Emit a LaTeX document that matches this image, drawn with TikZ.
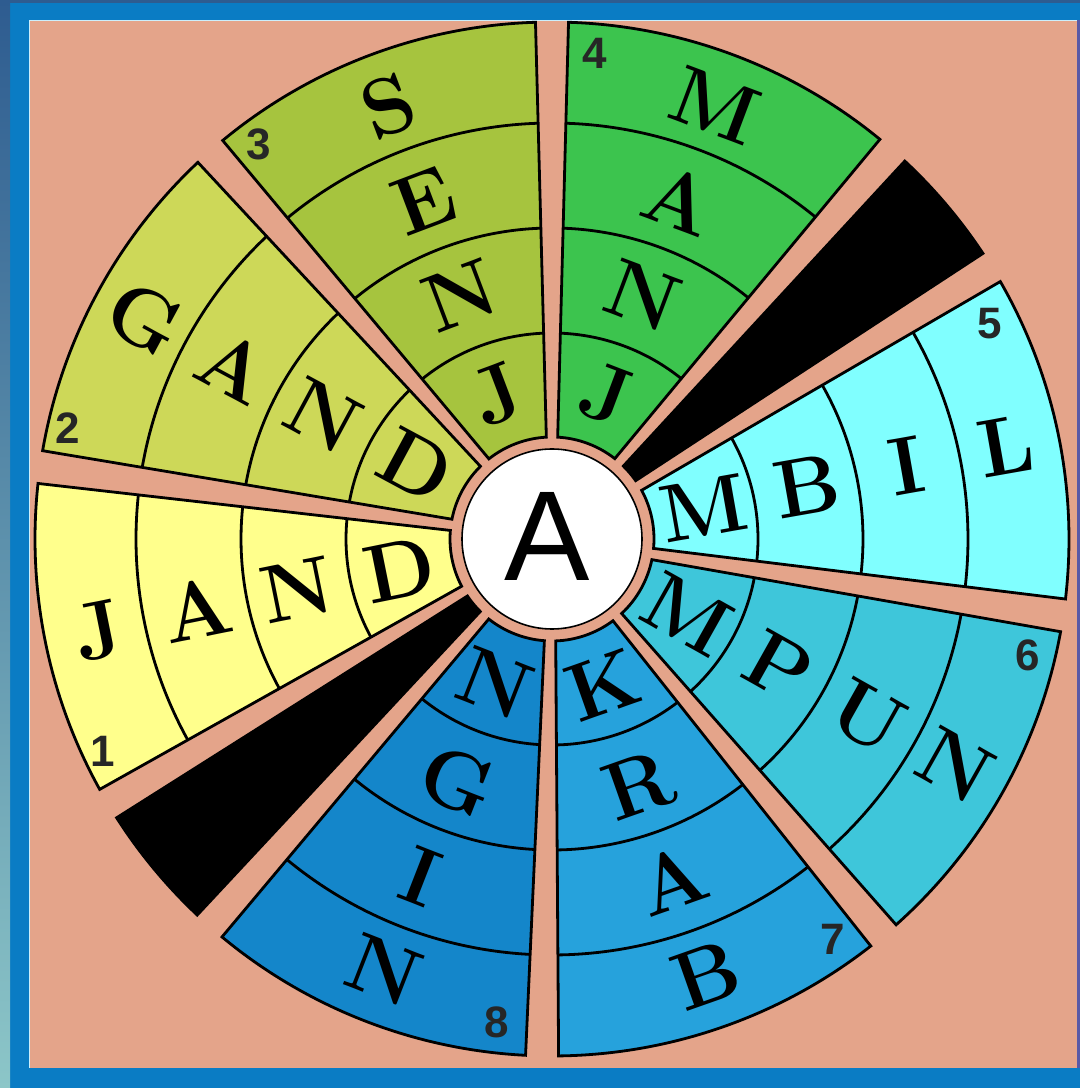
\documentclass[tikz,border=0pt]{standalone}
\usepackage{fontspec}
\newfontfamily\sansnum{Liberation Sans}
\newfontfamily\sansnumbold{Liberation Sans Bold}
\usetikzlibrary{calc}
\definecolor{salmonbg}{HTML}{E4A48A}
\definecolor{frameblue}{HTML}{0A7CC4}
\definecolor{darkframe}{HTML}{2E5C90}
\definecolor{tealframe}{HTML}{8CC6C8}
\definecolor{cA}{HTML}{FFFF8C}
\definecolor{cB}{HTML}{CDD858}
\definecolor{cC}{HTML}{A6C43E}
\definecolor{cD}{HTML}{3CC44E}
\definecolor{cE}{HTML}{80FFFF}
\definecolor{cF}{HTML}{3EC6DA}
\definecolor{cG}{HTML}{26A2DC}
\definecolor{cH}{HTML}{1486CA}
\tikzset{
  lett/.style={font=\fontsize{82}{82}\selectfont\bfseries, inner sep=0pt, text height=56pt, text depth=0pt},
  numlab/.style={font=\sansnumbold\fontsize{44}{44}\selectfont, text=black!85, inner sep=0pt},
  outline/.style={draw=black, line width=2.8},
}
\newcommand\sectorletters[7]{%
  \node[lett, rotate=#3] (#1a) at (#2:155) {#4};
  \node[lett, rotate=#3] (#1b) at (#2:260) {#5};
  \node[lett, rotate=#3] (#1c) at (#2:362) {#6};
  \node[lett, rotate=#3] (#1d) at (#2:463) {#7};
}
\begin{document}
\begin{tikzpicture}[x=1pt,y=1pt]
\useasboundingbox (0,0) rectangle (1080,1088);
% frame
\fill[frameblue] (0,0) rectangle (1080,1088);
\shade[top color=darkframe, bottom color=tealframe] (0,0) rectangle (10,1088);
\fill[darkframe] (0,1085) rectangle (1080,1088);
\fill[salmonbg] (29,20) rectangle (1077,1068);
\draw[white!80!cyan, line width=1.6] (29.5,20) -- (29.5,1067.5) -- (1077,1067.5);
\fill[blue!30!gray] (1077,20) rectangle (1080,1068);
\begin{scope}[shift={(552,549)}]
  \def\rin{102}\def\rout{517}\def\dl{1.5}\def\dd{3}
  % coloured sectors
  \foreach \a/\b/\col in {172/210.8/cA, 131.4/172/cB, 90/131.4/cC, 48.8/90/cD,
                          -8.5/31.7/cE, -50.1/-8.5/cF, -91.1/-50.1/cG, -131.5/-91.1/cH,
                          31.7/48.8/black, -149.2/-131.5/black} {
    \pgfmathsetmacro\sIn{\a+\dl+\dd/\rin*57.2958}
    \pgfmathsetmacro\eIn{\b-\dl-\dd/\rin*57.2958}
    \pgfmathsetmacro\sOut{\a+\dl+\dd/\rout*57.2958}
    \pgfmathsetmacro\eOut{\b-\dl-\dd/\rout*57.2958}
    \filldraw[fill=\col, outline] (\sIn:\rin) -- (\sOut:\rout)
      arc[start angle=\sOut, end angle=\eOut, radius=\rout]
      -- (\eIn:\rin) arc[start angle=\eIn, end angle=\sIn, radius=\rin] -- cycle;
  }
  % ring dividers
  \foreach \a/\b in {172/210.8, 131.4/172, 90/131.4, 48.8/90,
                     -8.5/31.7, -50.1/-8.5, -91.1/-50.1, -131.5/-91.1} {
    \foreach \R in {206,311,416} {
      \pgfmathsetmacro\sR{\a+\dl+\dd/\R*57.2958}
      \pgfmathsetmacro\eR{\b-\dl-\dd/\R*57.2958}
      \draw[line width=2.8] (\sR:\R) arc[start angle=\sR, end angle=\eR, radius=\R];
    }
  }
  % centre
  \filldraw[fill=white, draw=black, line width=1.6] (0,0) circle[radius=90];
  \node[font=\sansnum\fontsize{128}{128}\selectfont, inner sep=0pt] (hub) at (-5,3) {A};
  % letters (inner to outer)
  \sectorletters{one}{191.4}{11.4}{D}{N}{A}{J}
  \sectorletters{two}{151.7}{-28.3}{D}{N}{A}{G}
  \sectorletters{three}{110.7}{20.7}{J}{N}{E}{S}
  \sectorletters{four}{69.4}{-20.6}{J}{N}{A}{M}
  \sectorletters{five}{11.6}{10}{M}{B}{I}{L}
  \sectorletters{six}{-29.3}{-29.3}{M}{P}{U}{N}
  \sectorletters{seven}{-70.6}{19.4}{K}{R}{A}{B}
  \sectorletters{eight}{-111.3}{-21.3}{N}{G}{I}{N}
\end{scope}
% sector numbers
\node[numlab] (n1) at (103,337) {1};
\node[numlab] (n2) at (68,660) {2};
\node[numlab] (n3) at (259,944) {3};
\node[numlab] (n4) at (595,1035) {4};
\node[numlab] (n5) at (990,764) {5};
\node[numlab] (n6) at (1028,433) {6};
\node[numlab] (n7) at (833,149) {7};
\node[numlab] (n8) at (497,66) {8};
\end{tikzpicture}
\end{document}
